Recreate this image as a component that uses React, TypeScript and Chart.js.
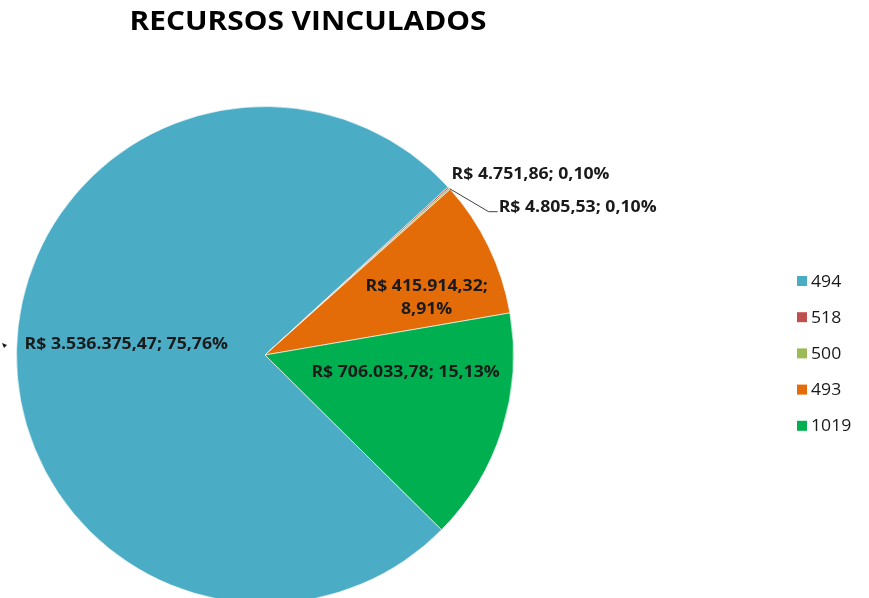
import React, { useEffect, useRef } from "react";
import { Chart, registerables } from "chart.js";

Chart.register(...registerables);

const categories = ["494", "518", "500", "493", "1019"];
const values = [3536375.47, 4751.86, 4805.53, 415914.32, 706033.78];
const valueLabels = ["R$ 3.536.375,47", "R$ 4.751,86", "R$ 4.805,53", "R$ 415.914,32", "R$ 706.033,78"];
const percentLabels = ["75,76%", "0,10%", "0,10%", "8,91%", "15,13%"];
const colors = ["#4BACC6", "#C0504D", "#9BBB59", "#E36C09", "#00B050"];
const titleText = "RECURSOS VINCULADOS";

const W = 869;
const H = 620;

function fmtLabel(i: number) {
  return valueLabels[i] + "; " + percentLabels[i];
}

const FONT = "'Open Sans', 'Liberation Sans', sans-serif";

function drawText(ctx: CanvasRenderingContext2D, text: string, x: number, y: number, sx: number) {
  ctx.save();
  ctx.translate(x, y);
  ctx.scale(sx, 1);
  ctx.fillText(text, 0, 0);
  ctx.restore();
}

const overlayPlugin = {
  id: "overlay",
  afterDatasetsDraw(chart: any) {
    const ctx = chart.ctx as CanvasRenderingContext2D;
    const meta = chart.getDatasetMeta(0);
    const arcs = meta.data;
    const a0 = arcs[0];
    const cx = a0.x;
    const cy = a0.y;
    const r = a0.outerRadius;
    const polar = (angDegFromTop: number, k: number) => {
      const t = (angDegFromTop * Math.PI) / 180;
      return [cx + k * r * Math.sin(t), cy - k * r * Math.cos(t)];
    };
    const edgeAngle = (arc: any) => {
      const mid = (arc.startAngle + arc.endAngle) / 2;
      return [cx + r * Math.cos(mid), cy + r * Math.sin(mid)];
    };

    const SX = 1.14;
    ctx.save();
    ctx.fillStyle = "#1a1a1a";
    ctx.font = "bold 15.5px " + FONT;
    ctx.textBaseline = "middle";

    // blue label
    ctx.textAlign = "center";
    let [x, y] = polar(274.5, 0.56);
    drawText(ctx, fmtLabel(0), x, y, SX);

    // orange label (two lines)
    [x, y] = polar(70.5, 0.69);
    drawText(ctx, valueLabels[3] + ";", x, y - 11.5, SX);
    drawText(ctx, percentLabels[3], x, y + 11.5, SX);

    // green label
    [x, y] = polar(97.2, 0.57);
    drawText(ctx, fmtLabel(4), x, y, SX);

    // small slices
    const [ex1, ey1] = edgeAngle(arcs[1]);
    ctx.textAlign = "left";
    drawText(ctx, fmtLabel(1), ex1 + 3, ey1 - 13, SX);

    const [ex2, ey2] = edgeAngle(arcs[2]);
    ctx.strokeStyle = "#404040";
    ctx.lineWidth = 1;
    ctx.beginPath();
    ctx.moveTo(ex2, ey2);
    ctx.lineTo(ex2 + 39, ey2 + 23);
    ctx.lineTo(ex2 + 48, ey2 + 23);
    ctx.stroke();
    drawText(ctx, fmtLabel(2), ex2 + 49, ey2 + 19, SX);

    // tiny leader mark at the far left
    ctx.fillStyle = "#1a1a1a";
    ctx.beginPath();
    ctx.moveTo(2, cy - 12);
    ctx.lineTo(7, cy - 10);
    ctx.lineTo(4, cy - 7);
    ctx.closePath();
    ctx.fill();

    // title
    ctx.font = "bold 27px " + FONT;
    ctx.textAlign = "center";
    ctx.fillStyle = "#000";
    const tw = ctx.measureText(titleText).width;
    drawText(ctx, titleText, 308, 22.5, 357 / tw);

    // legend
    ctx.font = "16px " + FONT;
    ctx.textAlign = "left";
    const lx = 797;
    const ly0 = 281;
    const step = 36.2;
    categories.forEach((c, i) => {
      const yy = ly0 + i * step;
      ctx.fillStyle = colors[i];
      ctx.fillRect(lx, yy - 5, 10, 10);
      ctx.fillStyle = "#1a1a1a";
      drawText(ctx, c, lx + 14, yy + 1, 1.1);
    });
    ctx.restore();
  },
};

export default function App() {
  const ref = useRef<HTMLCanvasElement | null>(null);
  useEffect(() => {
    if (!ref.current) return;
    const chart = new Chart(ref.current, {
      type: "pie",
      data: {
        labels: categories,
        datasets: [
          {
            data: values,
            backgroundColor: colors,
            borderColor: "rgba(255,255,255,0.6)",
            borderWidth: 1,
          },
        ],
      },
      options: {
        responsive: false,
        animation: false,
        rotation: 134.7,
        layout: { padding: { left: 16, top: 106, right: W - 16 - 498, bottom: H - 106 - 498 } },
        plugins: {
          legend: { display: false },
          title: { display: false },
          tooltip: { enabled: false },
        },
      },
      plugins: [overlayPlugin],
    });
    return () => chart.destroy();
  }, []);
  return (
    <div style={{ position: "fixed", left: 0, top: 0, width: W, height: 598, overflow: "hidden", background: "#fff" }}>
      <canvas ref={ref} width={W} height={H} style={{ display: "block", width: W, height: H }} />
    </div>
  );
}
